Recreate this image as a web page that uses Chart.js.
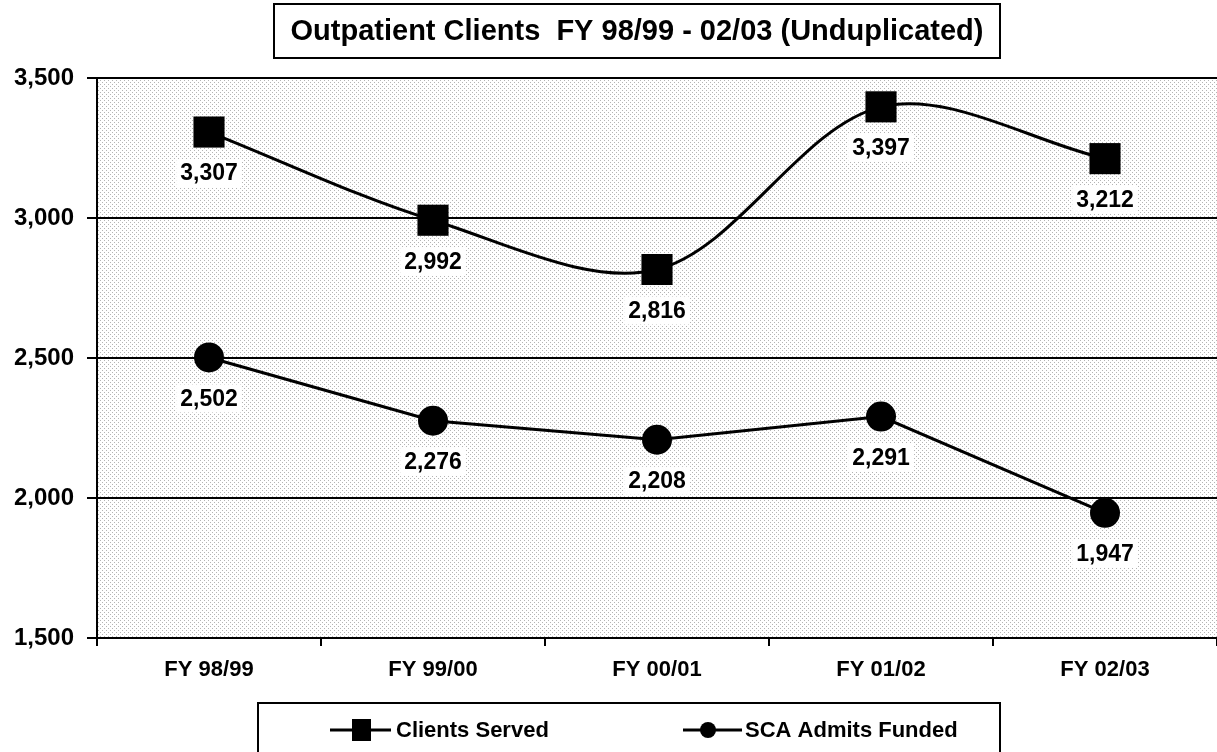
<!DOCTYPE html>
<html>
<head>
<meta charset="utf-8">
<title>Outpatient Clients</title>
<script src="https://cdn.jsdelivr.net/npm/chart.js@4.4.1/dist/chart.umd.min.js"></script>
<style>
  body { margin: 0; background: #fff; }
  canvas { display: block; }
</style>
</head>
<body>
<canvas id="myChart" width="1217" height="752"></canvas>
<script>
// datos
const categorias = ['FY 98/99', 'FY 99/00', 'FY 00/01', 'FY 01/02', 'FY 02/03'];
const clientesAtendidos = [3307, 2992, 2816, 3397, 3212];
const admisionesSCA = [2502, 2276, 2208, 2291, 1947];
const nombresSeries = ['Clients Served', 'SCA Admits Funded'];
const tituloGrafica = 'Outpatient Clients  FY 98/99 - 02/03 (Unduplicated)';
const ejeY = { min: 1500, max: 3500, paso: 500 };

const fuente = '"Liberation Sans", Arial, sans-serif';

// fondo punteado del area de la grafica
function crearPatron(ctx) {
    const c = document.createElement('canvas');
    c.width = 4;
    c.height = 4;
    const p = c.getContext('2d');
    p.fillStyle = '#fff';
    p.fillRect(0, 0, 4, 4);
    p.fillStyle = '#b4b4b4';
    p.fillRect(0, 0, 1, 1);
    p.fillRect(2, 2, 1, 1);
    return ctx.createPattern(c, 'repeat');
}

const fondoPlugin = {
    id: 'fondo',
    beforeDraw(chart) {
        const { ctx, chartArea } = chart;
        ctx.save();
        ctx.fillStyle = '#fff';
        ctx.fillRect(0, 0, chart.width, chart.height);
        ctx.fillStyle = crearPatron(ctx);
        ctx.fillRect(chartArea.left, chartArea.top, chartArea.right - chartArea.left, chartArea.bottom - chartArea.top);
        ctx.restore();
    }
};

// etiquetas de valores debajo de cada punto
const etiquetasPlugin = {
    id: 'etiquetas',
    afterDatasetsDraw(chart) {
        const ctx = chart.ctx;
        ctx.save();
        ctx.font = 'bold 23px ' + fuente;
        ctx.textAlign = 'center';
        ctx.textBaseline = 'middle';
        chart.data.datasets.forEach(function (ds, i) {
            const meta = chart.getDatasetMeta(i);
            meta.data.forEach(function (pt, j) {
                const txt = ds.data[j].toLocaleString('en-US');
                const w = ctx.measureText(txt).width;
                const y = pt.y + 41;
                ctx.fillStyle = '#fff';
                ctx.fillRect(pt.x - w / 2 - 4, y - 14, w + 8, 28);
                ctx.fillStyle = '#000';
                ctx.fillText(txt, pt.x, y + 1);
            });
        });
        ctx.restore();
    }
};

// titulo y leyenda con recuadro
const marcoPlugin = {
    id: 'marco',
    afterDraw(chart) {
        const ctx = chart.ctx;
        ctx.save();
        // titulo
        ctx.strokeStyle = '#000';
        ctx.lineWidth = 2;
        ctx.fillStyle = '#fff';
        ctx.fillRect(274, 4, 726, 54);
        ctx.strokeRect(274, 4, 726, 54);
        ctx.fillStyle = '#000';
        ctx.font = 'bold 29px ' + fuente;
        ctx.textAlign = 'center';
        ctx.textBaseline = 'middle';
        ctx.fillText(tituloGrafica, 637, 32);

        // leyenda
        ctx.fillStyle = '#fff';
        ctx.fillRect(258, 703, 742, 60);
        ctx.strokeRect(258, 703, 742, 60);
        ctx.lineWidth = 3;
        ctx.beginPath();
        ctx.moveTo(330, 730); ctx.lineTo(391, 730);
        ctx.moveTo(683, 730); ctx.lineTo(742, 730);
        ctx.stroke();
        ctx.fillStyle = '#000';
        ctx.fillRect(352, 719, 19, 22);
        ctx.beginPath();
        ctx.arc(708, 730, 8, 0, Math.PI * 2);
        ctx.fill();
        ctx.font = 'bold 22px ' + fuente;
        ctx.textAlign = 'left';
        ctx.fillText(nombresSeries[0], 396, 731);
        ctx.fillText(nombresSeries[1], 745, 731);
        ctx.restore();
    }
};

const ctx = document.getElementById('myChart').getContext('2d');
const myChart = new Chart(ctx, {
    type: 'line',
    data: {
        labels: categorias,
        datasets: [{
            label: nombresSeries[0],
            data: clientesAtendidos,
            borderColor: '#000',
            backgroundColor: '#000',
            borderWidth: 3,
            tension: 0.33,
            pointStyle: 'rect',
            pointRadius: 22,
            pointHoverRadius: 22,
            pointBorderWidth: 0
        }, {
            label: nombresSeries[1],
            data: admisionesSCA,
            borderColor: '#000',
            backgroundColor: '#000',
            borderWidth: 3,
            tension: 0,
            pointStyle: 'circle',
            pointRadius: 15,
            pointHoverRadius: 15,
            pointBorderWidth: 0
        }]
    },
    options: {
        responsive: false,
        animation: false,
        events: [],
        layout: { autoPadding: false, padding: { top: 78, left: 0, right: 0, bottom: 0 } },
        plugins: {
            legend: { display: false },
            title: { display: false },
            tooltip: { enabled: false }
        },
        scales: {
            x: {
                offset: true,
                afterFit: function (scale) { scale.height = 114; },
                grid: {
                    offset: true,
                    drawOnChartArea: false,
                    tickLength: 8,
                    color: '#000',
                    lineWidth: 2
                },
                border: { display: true, color: '#000', width: 2 },
                ticks: {
                    color: '#000',
                    padding: 11,
                    font: { family: fuente, size: 22, weight: 'bold' }
                }
            },
            y: {
                min: ejeY.min,
                max: ejeY.max,
                afterFit: function (scale) { scale.width = 97; },
                grid: {
                    color: '#000',
                    lineWidth: 2,
                    tickLength: 10
                },
                border: { display: true, color: '#000', width: 2 },
                ticks: {
                    stepSize: ejeY.paso,
                    color: '#000',
                    padding: 13,
                    font: { family: fuente, size: 24, weight: 'bold' },
                    callback: function (v) { return v.toLocaleString('en-US'); }
                }
            }
        }
    },
    plugins: [fondoPlugin, etiquetasPlugin, marcoPlugin]
});
</script>
</body>
</html>
